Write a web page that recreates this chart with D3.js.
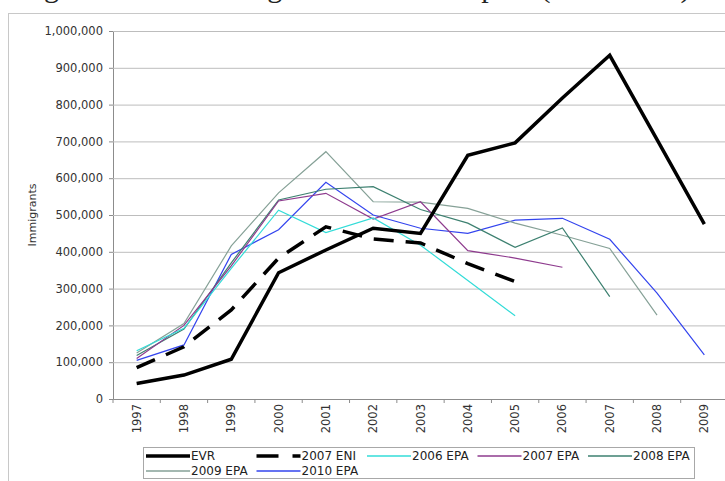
<!DOCTYPE html>
<html>
<head>
<meta charset="utf-8">
<script src="https://cdn.jsdelivr.net/npm/d3@7"></script>
<style>
  body { margin: 0; background: #fff; }
  svg { display: block; }
  .grid-line { stroke: #bdbdbd; stroke-width: 1; }
</style>
</head>
<body>
<svg width="725" height="481"></svg>
<script>
// данные для графика
let years = ["1997", "1998", "1999", "2000", "2001", "2002", "2003", "2004", "2005", "2006", "2007", "2008", "2009"];
let evr = [42000, 65000, 108000, 343000, 405000, 464000, 450000, 662000, 696000, 818000, 934000, 705000, 475000];
let eni2007 = [85000, 142000, 242000, 383000, 468000, 435000, 424000, 368000, 319000, null, null, null, null];
let epa2006 = [131000, 192000, 355000, 513000, 452000, 492000, 418000, 322000, 226000, null, null, null, null];
let epa2007 = [110000, 200000, 362000, 538000, 559000, 489000, 536000, 403000, 383000, 358000, null, null, null];
let epa2008 = [118000, 190000, 370000, 541000, 570000, 577000, 515000, 478000, 412000, 465000, 278000, null, null];
let epa2009 = [125000, 205000, 416000, 560000, 672000, 536000, 535000, 518000, 478000, 445000, 409000, 228000, null];
let epa2010 = [105000, 147000, 393000, 460000, 589000, 500000, 464000, 450000, 486000, 491000, 434000, 288000, 120000];
let yTicks = [0, 100000, 200000, 300000, 400000, 500000, 600000, 700000, 800000, 900000, 1000000];
let seriesNames = ["EVR", "2007 ENI", "2006 EPA", "2007 EPA", "2008 EPA", "2009 EPA", "2010 EPA"];

let series = [
    { name: seriesNames[0], values: evr, color: "#000", width: 3.5, dash: null },
    { name: seriesNames[1], values: eni2007, color: "#000", width: 3.5, dash: "20,12" },
    { name: seriesNames[2], values: epa2006, color: "#33dcd8", width: 1.2, dash: null },
    { name: seriesNames[3], values: epa2007, color: "#8e3b8e", width: 1.2, dash: null },
    { name: seriesNames[4], values: epa2008, color: "#3d8070", width: 1.2, dash: null },
    { name: seriesNames[5], values: epa2009, color: "#86a197", width: 1.2, dash: null },
    { name: seriesNames[6], values: epa2010, color: "#3344ee", width: 1.2, dash: null }
];

let svg = d3.select("svg");

// обрезанная подпись документа сверху (видны только хвосты букв)
svg.append("text")
    .attr("x", 19)
    .attr("y", -3)
    .style("font-family", "'Liberation Serif', serif")
    .style("font-size", "30px")
    .style("fill", "#222")
    .text("Figure 4: Total immigration flows to Spain (1997-2009)");

// рамка области диаграммы
svg.append("rect")
    .attr("x", 8.5)
    .attr("y", 13.5)
    .attr("width", 740)
    .attr("height", 490)
    .attr("fill", "#fff")
    .attr("stroke", "#c8c8c8");

let plotLeft = 113;
let plotRight = 728;
let plotTop = 31;
let plotBottom = 399;

// шкалы
let scaleX = d3.scaleBand()
    .domain(years)
    .range([plotLeft, plotRight]);

let scaleY = d3.scaleLinear()
    .domain([0, 1000000])
    .range([plotBottom, plotTop]);

// ось OY
let axisY = d3.axisLeft(scaleY)
    .tickValues(yTicks)
    .tickSize(4)
    .tickPadding(6)
    .tickFormat(d3.format(","));

let gY = svg.append("g")
    .attr("class", "y-axis")
    .attr("transform", `translate(${plotLeft}, 0)`)
    .call(axisY);
gY.select(".domain").attr("stroke", "#8c8c8c");
gY.selectAll(".tick line").attr("stroke", "#8c8c8c");
gY.selectAll("text")
    .style("font-family", "'DejaVu Sans', sans-serif")
    .style("font-size", "11.5px")
    .style("fill", "#333");

// горизонтальные линии сетки
gY.selectAll("g.tick")
    .filter(d => d > 0)
    .append("line")
    .classed("grid-line", true)
    .attr("x1", 0)
    .attr("y1", 0)
    .attr("x2", plotRight - plotLeft)
    .attr("y2", 0);

// ось OX
let axisX = d3.axisBottom(scaleX)
    .tickSize(0)
    .tickPadding(0);

let gX = svg.append("g")
    .attr("class", "x-axis")
    .attr("transform", `translate(0, ${plotBottom})`)
    .call(axisX);
gX.select(".domain").attr("stroke", "#8c8c8c");
gX.selectAll("text")
    .style("font-family", "'DejaVu Sans', sans-serif")
    .style("font-size", "11.5px")
    .style("fill", "#333")
    .style("text-anchor", "end")
    .attr("transform", "rotate(-90)")
    .attr("x", -5)
    .attr("y", 0)
    .attr("dy", ".35em");

// засечки между категориями
gX.selectAll(".sep")
    .data(years)
    .enter()
    .append("line")
    .attr("x1", d => scaleX(d))
    .attr("x2", d => scaleX(d))
    .attr("y1", 0)
    .attr("y2", 4)
    .attr("stroke", "#8c8c8c");

// подпись оси OY
svg.append("text")
    .attr("transform", `translate(36, 215) rotate(-90)`)
    .style("text-anchor", "middle")
    .style("font-family", "'DejaVu Sans', sans-serif")
    .style("font-size", "11px")
    .style("fill", "#333")
    .text("Immigrants");

// линии
let line = d3.line()
    .defined(d => d.v != null)
    .x(d => scaleX(d.x) + scaleX.bandwidth() / 2)
    .y(d => scaleY(d.v));

let order = [6, 5, 4, 3, 2, 1, 0];
order.forEach(i => {
    let s = series[i];
    svg.append("path")
        .datum(years.map((y, j) => ({ x: y, v: s.values[j] })))
        .attr("fill", "none")
        .attr("stroke", s.color)
        .attr("stroke-width", s.width)
        .attr("stroke-dasharray", s.dash)
        .attr("stroke-linejoin", "miter")
        .attr("d", line);
});

// легенда
let legend = svg.append("g");
legend.append("rect")
    .attr("x", 143.5)
    .attr("y", 447.5)
    .attr("width", 551)
    .attr("height", 31)
    .attr("fill", "#fff")
    .attr("stroke", "#a8a8a8");

series.forEach((s, i) => {
    let col = i % 5;
    let row = Math.floor(i / 5);
    let tx = 191 + col * 110.5;
    let ty = 456 + row * 15;
    legend.append("line")
        .attr("x1", tx - 45)
        .attr("x2", tx - 1)
        .attr("y1", ty)
        .attr("y2", ty)
        .attr("stroke", s.color)
        .attr("stroke-width", s.width > 2 ? 3.5 : 1.5)
        .attr("stroke-dasharray", s.dash ? "22,14" : null);
    legend.append("text")
        .attr("x", tx)
        .attr("y", ty)
        .attr("dy", ".35em")
        .style("font-family", "'DejaVu Sans', sans-serif")
        .style("font-size", "12px")
        .style("fill", "#222")
        .text(s.name);
});
</script>
</body>
</html>
